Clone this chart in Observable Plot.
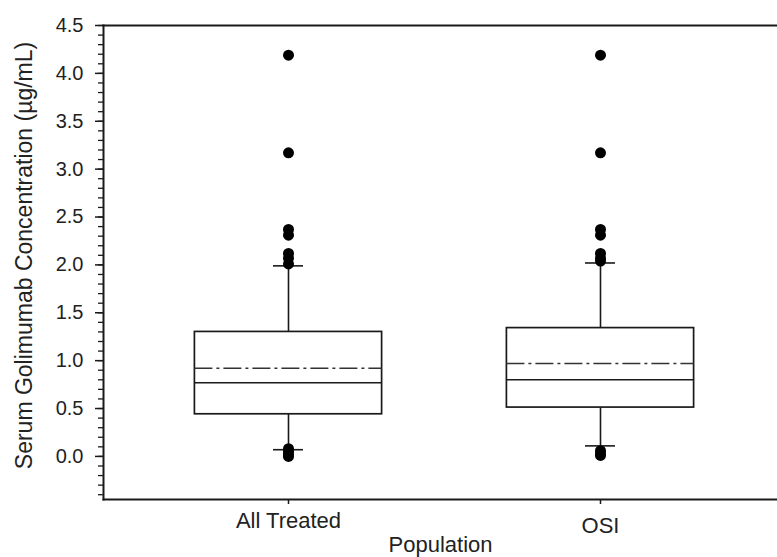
<!DOCTYPE html>
<html><head><meta charset="utf-8">
<script src="https://cdn.jsdelivr.net/npm/d3@7"></script>
<script src="https://cdn.jsdelivr.net/npm/@observablehq/plot@0.6"></script>
<style>body{margin:0;background:#fff}</style>
</head><body><div id="chart"></div>
<script>
const groups = ["All Treated", "OSI"];
const q1 = [0.44, 0.51];
const median = [0.77, 0.80];
const q3 = [1.30, 1.34];
const mean = [0.92, 0.97];
const whiskerLow = [0.07, 0.11];
const whiskerHigh = [1.99, 2.02];
const outliersAllTreated = [4.19, 3.17, 2.37, 2.31, 2.12, 2.07, 2.01, 0.08, 0.05, 0.02, 0.0];
const outliersOSI = [4.19, 3.17, 2.37, 2.31, 2.12, 2.07, 2.04, 0.06, 0.03, 0.01];
const yTicks = [0, 0.5, 1, 1.5, 2, 2.5, 3, 3.5, 4, 4.5];
const yMinorTicks = d3.range(-4, 46).map(i => i / 10);
const yTitle = "Serum Golimumab Concentration (µg/mL)";
const xTitle = "Population";

const stats = groups.map((g, i) => ({group: g, q1: q1[i], median: median[i], q3: q3[i], mean: mean[i], lo: whiskerLow[i], hi: whiskerHigh[i]}));
const outliers = [
  ...outliersAllTreated.map(v => ({group: groups[0], value: v})),
  ...outliersOSI.map(v => ({group: groups[1], value: v}))
];
const ink = "#1a1a1a";
const txt = "#222";

const chart = Plot.plot({
  width: 777, height: 557,
  marginTop: 25, marginBottom: 58, marginLeft: 103, marginRight: 0,
  style: {fontFamily: "'Liberation Sans', Arial, sans-serif", fontSize: "20px", color: ink, background: "#fff"},
  x: {type: "band", domain: groups, range: [69.6, 818.4], padding: 0.4, round: false, axis: null},
  y: {domain: [-0.45, 4.5], axis: null},
  marks: [
    Plot.frame({anchor: "top", strokeWidth: 2}),
    Plot.frame({anchor: "bottom", strokeWidth: 2}),
    Plot.frame({anchor: "left", strokeWidth: 2}),
    Plot.axisY(yMinorTicks, {tickSize: 5, fill: "none", strokeWidth: 1.3, label: null}),
    Plot.axisY(yTicks, {tickSize: 8, tickPadding: 12, tickFormat: d => d.toFixed(1), strokeWidth: 1.5, label: null, fontSize: 20, fill: txt}),
    Plot.axisX([groups[0]], {tickSize: 5, tickPadding: 8, strokeWidth: 1.5, label: null, fontSize: 22, fill: txt}),
    Plot.axisX([groups[1]], {tickSize: 5, tickPadding: 13, strokeWidth: 1.5, label: null, fontSize: 22, fill: txt}),
    Plot.text([xTitle], {frameAnchor: "bottom", dy: 52, fontSize: 22, fill: txt}),
    Plot.text([yTitle], {frameAnchor: "left", textAnchor: "middle", dx: -79, dy: -7, rotate: -90, fontSize: 23, fill: txt}),
    Plot.ruleX(stats, {x: "group", y1: "q3", y2: "hi", stroke: ink, strokeWidth: 1.6}),
    Plot.ruleX(stats, {x: "group", y1: "lo", y2: "q1", stroke: ink, strokeWidth: 1.6}),
    Plot.tickY(stats, {x: "group", y: "hi", insetLeft: 78.6, insetRight: 78.6, stroke: ink, strokeWidth: 1.6}),
    Plot.tickY(stats, {x: "group", y: "lo", insetLeft: 78.6, insetRight: 78.6, stroke: ink, strokeWidth: 1.6}),
    Plot.barY(stats, {x: "group", y1: "q1", y2: "q3", fill: "white", stroke: ink, strokeWidth: 1.7}),
    Plot.tickY(stats, {x: "group", y: "median", stroke: ink, strokeWidth: 1.6}),
    Plot.tickY(stats, {x: "group", y: "mean", stroke: "#333", strokeWidth: 1.5, strokeDasharray: "18,4,3,4"}),
    Plot.dot(outliers, {x: "group", y: "value", r: 5.5, fill: "#000", stroke: "none"})
  ]
});
document.getElementById("chart").appendChild(chart);
</script>
</body></html>
